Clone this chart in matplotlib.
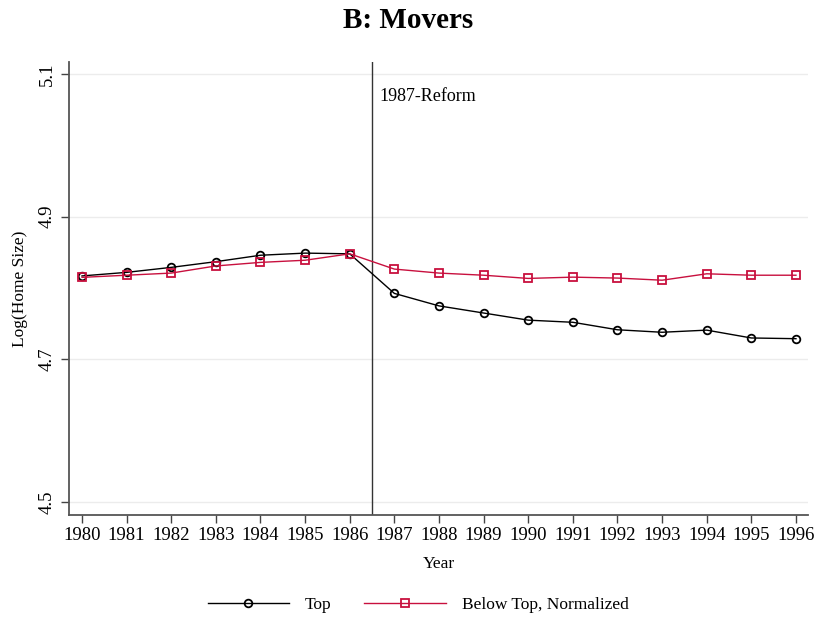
import matplotlib
matplotlib.use("Agg")
import matplotlib.pyplot as plt

years = list(range(1980, 1997))
top = [4.817, 4.822, 4.829, 4.837, 4.846, 4.849, 4.848,
       4.7925, 4.775, 4.765, 4.755, 4.752, 4.7415, 4.738, 4.741, 4.730, 4.729]
below_top = [4.815, 4.818, 4.821, 4.831, 4.836, 4.839, 4.848,
             4.8266, 4.821, 4.818, 4.8135, 4.8153, 4.814, 4.811, 4.820, 4.818, 4.818]
y_ticks = [4.5, 4.7, 4.9, 5.1]
reform_year = 1986.5

plt.rcParams["font.family"] = ["Liberation Serif", "DejaVu Serif"]

fig = plt.figure(figsize=(8.17, 6.18), dpi=100)
ax = fig.add_axes([0.0845, 0.1667, 0.9045, 0.733])

red = "#c8103e"
for y in y_ticks:
    ax.axhline(y, color="#ececec", lw=1.0, zorder=0)

ax.plot(years, top, color="black", lw=1.0, marker="o", ms=5.5,
        mfc="none", mec="black", mew=1.3, label="Top", zorder=3)
ax.plot(years, below_top, color=red, lw=1.0, marker="s", ms=5.5,
        mfc="none", mec=red, mew=1.3, label="Below Top, Normalized", zorder=3)

ax.axvline(reform_year, color="#333333", lw=1.0, zorder=2)
ax.text(1986.66, 5.068, "1987-Reform", fontsize=13, va="center", ha="left")

ax.set_xlim(1979.71, 1996.27)
ax.set_ylim(4.4818, 5.117)
ax.set_xticks(years)
ax.set_yticks(y_ticks)
ax.set_yticklabels(["4.5", "4.7", "4.9", "5.1"], rotation=90, va="center")
ax.tick_params(axis="both", labelsize=13.5, length=6, width=1.0, color="#444444")
ax.tick_params(axis="x", pad=3)

for side in ["top", "right"]:
    ax.spines[side].set_visible(False)
for side in ["left", "bottom"]:
    ax.spines[side].set_color("#555555")
    ax.spines[side].set_linewidth(1.3)

ax.set_xlabel("Year", fontsize=12.5, labelpad=8)
ax.set_ylabel("Log(Home Size)", fontsize=12.5, labelpad=8)

fig.text(0.5, 1 - 21 / 618, "B: Movers", fontsize=21, fontweight="bold",
         ha="center", va="center")

fig.legend(loc="center", ncol=2, frameon=False, fontsize=12.5,
           bbox_to_anchor=(418 / 817, 1 - 605 / 618), handlelength=4.7,
           columnspacing=1.9, handletextpad=0.9)

fig.savefig("out.png", dpi=100)
